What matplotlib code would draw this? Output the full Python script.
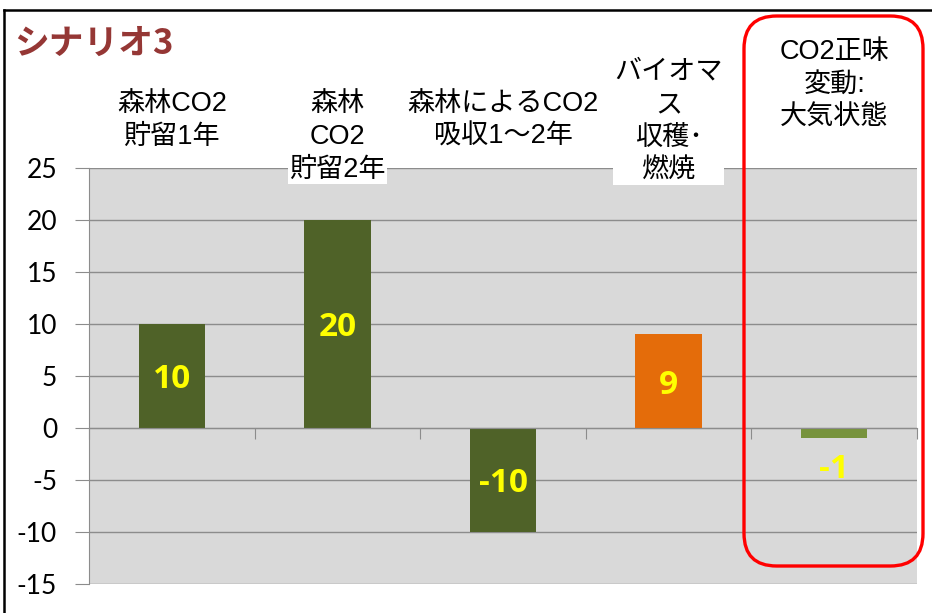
import matplotlib
matplotlib.use("Agg")
import matplotlib.pyplot as plt
from matplotlib.patches import FancyBboxPatch
from matplotlib.lines import Line2D

# Scenario 3 data
categories = [
    "森林CO2\n貯留1年",
    "森林\nCO2\n貯留2年",
    "森林によるCO2\n吸収1〜2年",
    "バイオマ\nス\n収穫･\n燃焼",
    "CO2正味\n変動:\n大気状態",
]
values = [10, 20, -10, 9, -1]
bar_colors = ["#4F6228", "#4F6228", "#4F6228", "#E46C0A", "#77933C"]
y_ticks = [-15, -10, -5, 0, 5, 10, 15, 20, 25]
title = "シナリオ3"

W, H = 932, 613
fig = plt.figure(figsize=(W / 100, H / 100), dpi=100)
fig.patch.set_facecolor("white")

def px(x0, y0, x1, y1):
    return [x0 / W, 1 - y1 / H, (x1 - x0) / W, (y1 - y0) / H]

ax = fig.add_axes(px(89, 168, 917, 584))
ax.set_facecolor("#D9D9D9")

xs = list(range(len(values)))
ax.bar(xs, values, width=0.4, color=bar_colors, zorder=3)

ax.set_xlim(-0.5, len(values) - 0.5)
ax.set_ylim(min(y_ticks), max(y_ticks))
ax.set_yticks(y_ticks)
ax.set_yticklabels([str(t) for t in y_ticks], fontsize=19, family=["Lato", "DejaVu Sans"])
ax.yaxis.grid(True, color="#8C8C8C", linewidth=1.0, zorder=1)
ax.set_axisbelow(True)

for s in ("top", "right"):
    ax.spines[s].set_visible(False)
ax.spines["left"].set_color("#8C8C8C")
ax.spines["bottom"].set_color("#8C8C8C")
ax.spines["bottom"].set_position(("data", 0))
ax.spines["bottom"].set_zorder(4)
ax.tick_params(axis="y", length=10, color="#8C8C8C", pad=13, direction="out")
ax.set_xticks([i + 0.5 for i in range(-1, len(values))])
ax.set_xticklabels([])
ax.tick_params(axis="x", length=8, color="#8C8C8C", direction="out")

# Value labels: inside the bar for tall bars, below the bar for short ones
val_font = ["Open Sans", "DejaVu Sans"]
for x, v in zip(xs, values):
    if abs(v) >= 5:
        anchor, offset = v / 2, -4
    else:
        anchor, offset = v, -31
    ax.annotate(f"{v}", xy=(x, anchor), xytext=(0, offset), textcoords="offset pixels",
                ha="center", va="center", color="#FFFF00", fontsize=24,
                fontweight="bold", family=val_font, zorder=5)

# Category labels above the plot area
label_tops = [91, 91, 91, 59, 39]
label_font = ["Liberation Sans", "Noto Sans CJK JP", "DejaVu Sans"]
for x, lab, top in zip(xs, categories, label_tops):
    xf = ax.transData.transform((x, 0))[0] / W
    fig.text(xf, 1 - top / H, lab, ha="center", va="top", fontsize=19.5,
             family=label_font, linespacing=1.35, color="black",
             bbox=dict(facecolor="white", edgecolor="none", pad=1), zorder=6)

# Title
fig.text(14 / W, 1 - 43 / H, title, ha="left", va="center", fontsize=25,
         fontweight="bold", color="#953735", family=["Noto Sans CJK JP", "DejaVu Sans"])

# Outer frame
fig.add_artist(Line2D([4 / W, 4 / W], [0, 1 - 10 / H], color="black", linewidth=1.8,
                      transform=fig.transFigure))
fig.add_artist(Line2D([4 / W, 1], [1 - 10 / H, 1 - 10 / H], color="black", linewidth=1.8,
                      transform=fig.transFigure))

# Highlight box around the net change column
x0, y0, x1, y1 = 744, 16, 923, 566
box = FancyBboxPatch((x0 / W, 1 - y1 / H), (x1 - x0) / W, (y1 - y0) / H,
                     boxstyle="round,pad=0,rounding_size=0.035",
                     transform=fig.transFigure, facecolor="none",
                     edgecolor="#FF0000", linewidth=2.4, zorder=10,
                     mutation_aspect=W / H)
fig.add_artist(box)

fig.savefig("out.png", dpi=100)
